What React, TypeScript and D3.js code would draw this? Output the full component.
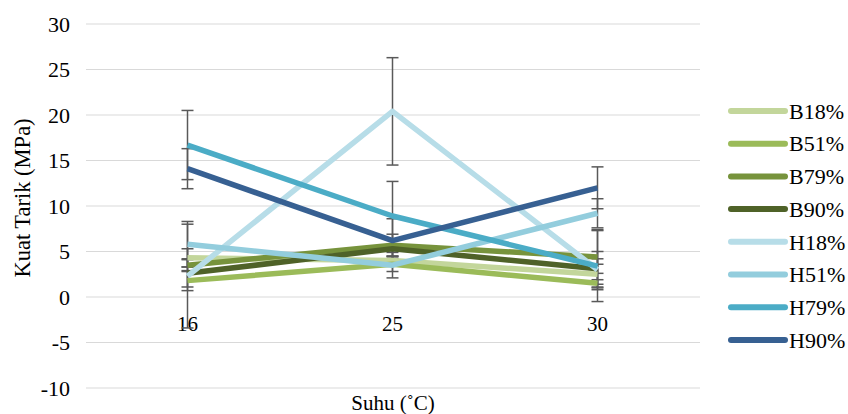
import React from "react";
import * as d3 from "d3";

const categories = ["16", "25", "30"];
const seriesNames = ["B18%", "B51%", "B79%", "B90%", "H18%", "H51%", "H79%", "H90%"];
const seriesColors = ["#c3d69b", "#9bbb59", "#77933c", "#4f6228", "#b7dde8", "#93cddd", "#4bacc6", "#376092"];
const B18 = [4.3, 4.0, 2.5];
const B51 = [1.8, 3.6, 1.5];
const B79 = [3.5, 5.7, 4.4];
const B90 = [2.6, 5.3, 3.1];
const H18 = [2.3, 20.4, 3.0];
const H51 = [5.8, 3.5, 9.2];
const H79 = [16.7, 8.9, 3.4];
const H90 = [14.1, 6.2, 12.0];
const errB18 = [1.0, 0.5, 1.7];
const errB51 = [1.1, 0.8, 0.4];
const errB79 = [0.7, 1.2, 3.0];
const errB90 = [1.5, 1.1, 0.5];
const errH18 = [5.7, 5.9, 2.0];
const errH51 = [2.5, 1.4, 1.6];
const errH79 = [3.8, 3.8, 3.9];
const errH90 = [2.2, 2.4, 2.3];
const yTicks = [-10, -5, 0, 5, 10, 15, 20, 25, 30];

const seriesValues = [B18, B51, B79, B90, H18, H51, H79, H90];
const seriesErrors = [errB18, errB51, errB79, errB90, errH18, errH51, errH79, errH90];

const W = 848;
const H = 414;
const FONT = "Liberation Serif";

export default function App() {
  const x = d3.scalePoint<string>().domain(categories).range([85, 700]).padding(0.5);
  const y = d3.scaleLinear().domain([-10, 30]).range([388, 24]);
  const line = d3
    .line<number>()
    .x((_, i) => x(categories[i]) as number)
    .y((d) => y(d));

  return (
    <svg width={W} height={H} style={{ position: "absolute", left: 0, top: 0, background: "#fff" }}>
      {yTicks.map((t) => (
        <g key={t}>
          <line x1={86} x2={700} y1={y(t)} y2={y(t)} stroke="#d9d9d9" strokeWidth={1} />
          <text x={70} y={y(t)} dy="0.35em" textAnchor="end" style={{ fontFamily: FONT, fontSize: 22 }} fill="#000">
            {t}
          </text>
        </g>
      ))}
      <text
        transform={`translate(22,198) rotate(-90)`}
        textAnchor="middle"
        dy="0.35em"
        style={{ fontFamily: FONT, fontSize: 22.5 }}
        fill="#000"
      >
        Kuat Tarik (MPa)
      </text>
      {categories.map((c) => (
        <text key={c} x={x(c)} y={331} textAnchor="middle" style={{ fontFamily: FONT, fontSize: 21 }} fill="#000">
          {c}
        </text>
      ))}
      <text x={393} y={410} textAnchor="middle" style={{ fontFamily: FONT, fontSize: 21 }} fill="#000">
        Suhu (˚C)
      </text>
      {seriesValues.map((vals, si) => (
        <g key={"e" + si}>
          {vals.map((v, i) => {
            const cx = x(categories[i]) as number;
            const e = seriesErrors[si][i];
            return (
              <g key={i} stroke="#595959" strokeWidth={1.5}>
                <line x1={cx} x2={cx} y1={y(v + e)} y2={y(v - e)} />
                <line x1={cx - 6} x2={cx + 6} y1={y(v + e)} y2={y(v + e)} />
                <line x1={cx - 6} x2={cx + 6} y1={y(v - e)} y2={y(v - e)} />
              </g>
            );
          })}
        </g>
      ))}
      {seriesValues.map((vals, si) => (
        <path
          key={"l" + si}
          d={line(vals) || ""}
          fill="none"
          stroke={seriesColors[si]}
          strokeWidth={5.5}
          strokeLinejoin="round"
          strokeLinecap="butt"
        />
      ))}
      {seriesNames.map((n, i) => {
        const ly = 111 + i * 32.7;
        return (
          <g key={n}>
            <line x1={731} x2={785} y1={ly} y2={ly} stroke={seriesColors[i]} strokeWidth={6} strokeLinecap="round" />
            <text x={789} y={ly} dy="0.35em" style={{ fontFamily: FONT, fontSize: 22 }} fill="#000">
              {n}
            </text>
          </g>
        );
      })}
    </svg>
  );
}
